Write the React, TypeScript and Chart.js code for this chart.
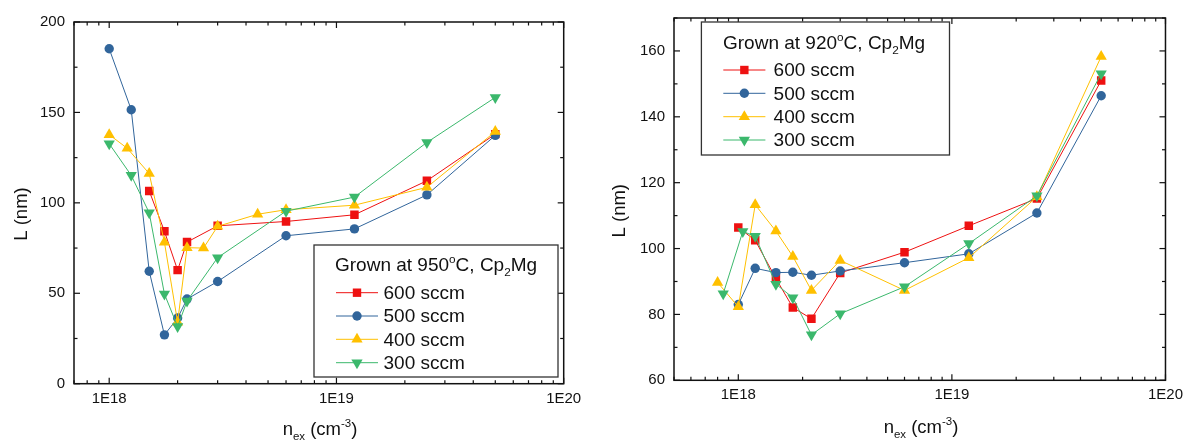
import React, { useEffect, useRef } from 'react';
import { Chart, registerables } from 'chart.js';

Chart.register(...registerables);

// ---------- shared data ----------
const seriesLabels = ['600 sccm', '500 sccm', '400 sccm', '300 sccm'];
const seriesColors = ['#EE1111', '#31659B', '#FFC000', '#3BB86C'];
const seriesStyles = ['rect', 'circle', 'triangle', 'down'];
const xTickValues = [1e18, 1e19, 1e20];
const xTickLabels = ['1E18', '1E19', '1E20'];

// ---------- left panel: grown at 950 °C ----------
const leftTemp = '950';
const leftYTicks = [0, 50, 100, 150, 200];
const left600X = [1.5e18, 1.75e18, 2e18, 2.2e18, 3e18, 6e18, 1.2e19, 2.5e19, 5e19];
const left600Y = [106.6, 84.3, 62.8, 78.3, 87.3, 89.7, 93.4, 112.2, 138];
const left500X = [1e18, 1.25e18, 1.5e18, 1.75e18, 2e18, 2.2e18, 3e18, 6e18, 1.2e19, 2.5e19, 5e19];
const left500Y = [185.2, 151.5, 62.2, 27, 36.3, 46.8, 56.5, 81.8, 85.6, 104.4, 137.3];
const left400X = [1e18, 1.2e18, 1.5e18, 1.75e18, 2e18, 2.2e18, 2.6e18, 3e18, 4.5e18, 6e18, 1.2e19, 2.5e19, 5e19];
const left400Y = [137.7, 130.2, 116.2, 78.2, 34, 75.2, 75, 87, 93.7, 96.2, 98.7, 108.6, 139.4];
const left300X = [1e18, 1.25e18, 1.5e18, 1.75e18, 2e18, 2.2e18, 3e18, 6e18, 1.2e19, 2.5e19, 5e19];
const left300Y = [132.7, 115.2, 94.5, 49.6, 31.6, 45.7, 69.7, 95.4, 103.2, 133.4, 158.3];

// ---------- right panel: grown at 920 °C ----------
const rightTemp = '920';
const rightYTicks = [60, 80, 100, 120, 140, 160];
const right600X = [1e18, 1.2e18, 1.5e18, 1.8e18, 2.2e18, 3e18, 6e18, 1.2e19, 2.5e19, 5e19];
const right600Y = [106.4, 102.5, 90.9, 82.1, 78.7, 92.6, 98.9, 106.9, 115.2, 151];
const right500X = [1e18, 1.2e18, 1.5e18, 1.8e18, 2.2e18, 3e18, 6e18, 1.2e19, 2.5e19, 5e19];
const right500Y = [83, 94, 92.7, 92.8, 91.9, 93.2, 95.7, 98.4, 110.8, 146.4];
const right400X = [8e17, 1e18, 1.2e18, 1.5e18, 1.8e18, 2.2e18, 3e18, 6e18, 1.2e19, 2.5e19, 5e19];
const right400Y = [89.7, 82.3, 113.3, 105.3, 97.6, 87.3, 96.4, 87.3, 97.2, 115.7, 158.3];
const right300X = [8.5e17, 1.05e18, 1.2e18, 1.5e18, 1.8e18, 2.2e18, 3e18, 6e18, 1.2e19, 2.5e19, 5e19];
const right300Y = [86.3, 105.2, 103.7, 89.2, 85.1, 73.8, 80.2, 88.4, 101.5, 116, 153.1];

const FONT = '"Liberation Sans", Arial, Helvetica, sans-serif';

type Seg = { t: string; k?: 'sup' | 'sub' };

function drawSegs(ctx: CanvasRenderingContext2D, segs: Seg[], x: number, y: number, size: number, align: 'left' | 'center') {
  const small = size * 0.62;
  const widths = segs.map((s) => {
    ctx.font = `${s.k ? small : size}px ${FONT}`;
    return ctx.measureText(s.t).width;
  });
  const total = widths.reduce((a, b) => a + b, 0);
  let cx = align === 'center' ? x - total / 2 : x;
  ctx.textAlign = 'left';
  ctx.textBaseline = 'alphabetic';
  segs.forEach((s, i) => {
    ctx.font = `${s.k ? small : size}px ${FONT}`;
    const dy = s.k === 'sup' ? -size * 0.42 : s.k === 'sub' ? size * 0.28 : 0;
    ctx.fillText(s.t, cx, y + dy);
    cx += widths[i];
  });
}

function drawMarker(ctx: CanvasRenderingContext2D, style: string, x: number, y: number, color: string) {
  ctx.fillStyle = color;
  ctx.beginPath();
  if (style === 'rect') {
    ctx.rect(x - 4.2, y - 4.2, 8.4, 8.4);
  } else if (style === 'circle') {
    ctx.arc(x, y, 4.7, 0, Math.PI * 2);
  } else if (style === 'triangle') {
    const r = 6.5;
    ctx.moveTo(x, y - r);
    ctx.lineTo(x + r * 0.866, y + r / 2);
    ctx.lineTo(x - r * 0.866, y + r / 2);
    ctx.closePath();
  } else {
    const r = 6.5;
    ctx.moveTo(x, y + r);
    ctx.lineTo(x + r * 0.866, y - r / 2);
    ctx.lineTo(x - r * 0.866, y - r / 2);
    ctx.closePath();
  }
  ctx.fill();
}

type Panel = {
  width: number;
  height: number;
  left: number;
  right: number;
  top: number;
  bottom: number;
  xMin: number;
  xMax: number;
  yMin: number;
  yMax: number;
  yTicks: number[];
  yMinor: number;
  temp: string;
  series: { x: number[]; y: number[] }[];
  legend: { x0: number; y0: number; x1: number; y1: number; titleX: number; titleY: number; lineX0: number; lineX1: number; textX: number; rows: number[] };
  yTitle: { x: number; y: number };
  xTitle: { x: number; y: number };
};

function makeDecor(p: Panel) {
  return {
    id: 'decor',
    afterDatasetsDraw(chart: any) {
      const ctx: CanvasRenderingContext2D = chart.ctx;
      const a = chart.chartArea;
      const xs = chart.scales.x;
      const ys = chart.scales.y;
      ctx.save();
      ctx.strokeStyle = '#111';
      // ticks
      ctx.lineWidth = 1.2;
      const seg = (x1: number, y1: number, x2: number, y2: number) => {
        ctx.beginPath();
        ctx.moveTo(x1, y1);
        ctx.lineTo(x2, y2);
        ctx.stroke();
      };
      for (let d = 17; d <= 20; d++) {
        for (let m = 1; m <= 9; m++) {
          const v = m * Math.pow(10, d);
          if (v < p.xMin * 0.999 || v > p.xMax * 1.001) continue;
          const px = xs.getPixelForValue(v);
          const len = m === 1 ? 6 : 3.5;
          seg(px, a.bottom, px, a.bottom - len);
          seg(px, a.top, px, a.top + len);
        }
      }
      for (let v = p.yMin; v <= p.yMax + 1e-9; v += p.yMinor) {
        const py = ys.getPixelForValue(v);
        const len = p.yTicks.includes(v) ? 6 : 3.5;
        seg(a.left, py, a.left + len, py);
        seg(a.right, py, a.right - len, py);
      }
      // frame
      ctx.lineWidth = 1.5;
      ctx.strokeRect(a.left, a.top, a.right - a.left, a.bottom - a.top);

      // legend
      const L = p.legend;
      ctx.fillStyle = '#fff';
      ctx.fillRect(L.x0, L.y0, L.x1 - L.x0, L.y1 - L.y0);
      ctx.strokeStyle = '#333';
      ctx.lineWidth = 1.3;
      ctx.strokeRect(L.x0, L.y0, L.x1 - L.x0, L.y1 - L.y0);
      ctx.fillStyle = '#111';
      drawSegs(
        ctx,
        [{ t: `Grown at ${p.temp}` }, { t: 'o', k: 'sup' }, { t: 'C, Cp' }, { t: '2', k: 'sub' }, { t: 'Mg' }],
        L.titleX,
        L.titleY,
        19,
        'left'
      );
      L.rows.forEach((ry, i) => {
        ctx.strokeStyle = seriesColors[i];
        ctx.lineWidth = 1;
        seg(L.lineX0, ry, L.lineX1, ry);
        drawMarker(ctx, seriesStyles[i], (L.lineX0 + L.lineX1) / 2, ry, seriesColors[i]);
        ctx.fillStyle = '#111';
        ctx.font = `19px ${FONT}`;
        ctx.textAlign = 'left';
        ctx.textBaseline = 'middle';
        ctx.fillText(seriesLabels[i], L.textX, ry + 1);
      });

      // axis titles
      ctx.fillStyle = '#111';
      ctx.save();
      ctx.translate(p.yTitle.x, p.yTitle.y);
      ctx.rotate(-Math.PI / 2);
      ctx.font = `18.5px ${FONT}`;
      ctx.textAlign = 'center';
      ctx.textBaseline = 'middle';
      ctx.fillText('L (nm)', 0, 0);
      ctx.restore();
      drawSegs(
        ctx,
        [{ t: 'n' }, { t: 'ex', k: 'sub' }, { t: ' (cm' }, { t: '-3', k: 'sup' }, { t: ')' }],
        p.xTitle.x,
        p.xTitle.y,
        18.5,
        'center'
      );
      ctx.restore();
    },
  };
}

function buildChart(canvas: HTMLCanvasElement, p: Panel) {
  const datasets = p.series.map((s, i) => ({
    label: seriesLabels[i],
    data: s.x.map((xv, j) => ({ x: xv, y: s.y[j] })),
    showLine: true,
    order: p.series.length - 1 - i,
    borderColor: seriesColors[i],
    backgroundColor: seriesColors[i],
    borderWidth: 1,
    pointStyle: seriesStyles[i] === 'down' ? 'triangle' : seriesStyles[i],
    rotation: seriesStyles[i] === 'down' ? 180 : 0,
    pointRadius: seriesStyles[i] === 'rect' ? 6 : seriesStyles[i] === 'circle' ? 4.7 : 6.5,
    pointBorderWidth: 0,
    pointBackgroundColor: seriesColors[i],
    tension: 0,
  }));
  return new Chart(canvas, {
    type: 'scatter',
    data: { datasets },
    plugins: [makeDecor(p)],
    options: {
      responsive: false,
      animation: false,
      devicePixelRatio: 1,
      layout: { padding: { left: 0, top: p.top, right: p.width - p.right, bottom: 0 } },
      plugins: { legend: { display: false }, tooltip: { enabled: false } },
      scales: {
        x: {
          type: 'logarithmic',
          min: p.xMin,
          max: p.xMax,
          grid: { display: false, drawTicks: false },
          border: { display: false },
          afterBuildTicks: (scale: any) => {
            scale.ticks = xTickValues.map((v) => ({ value: v }));
          },
          afterFit: (scale: any) => {
            scale.height = p.height - p.bottom;
          },
          ticks: {
            autoSkip: false,
            maxRotation: 0,
            minRotation: 0,
            padding: 6,
            color: '#111',
            font: { family: FONT, size: 15 },
            callback: (v: any) => {
              const i = xTickValues.indexOf(Number(v));
              return i >= 0 ? xTickLabels[i] : '';
            },
          },
        },
        y: {
          type: 'linear',
          min: p.yMin,
          max: p.yMax,
          grid: { display: false, drawTicks: false },
          border: { display: false },
          afterBuildTicks: (scale: any) => {
            scale.ticks = p.yTicks.map((v) => ({ value: v }));
          },
          afterFit: (scale: any) => {
            scale.width = p.left;
          },
          ticks: {
            padding: 9,
            color: '#111',
            font: { family: FONT, size: 15 },
            callback: (v: any) => String(v),
          },
        },
      },
    },
  } as any);
}

const leftPanel: Panel = {
  width: 600,
  height: 441,
  left: 74,
  right: 563.7,
  top: 22,
  bottom: 383.7,
  xMin: 7e17,
  xMax: 1e20,
  yMin: 0,
  yMax: 200,
  yTicks: leftYTicks,
  yMinor: 25,
  temp: leftTemp,
  series: [
    { x: left600X, y: left600Y },
    { x: left500X, y: left500Y },
    { x: left400X, y: left400Y },
    { x: left300X, y: left300Y },
  ],
  legend: {
    x0: 314,
    y0: 245,
    x1: 558,
    y1: 377,
    titleX: 335,
    titleY: 271,
    lineX0: 336,
    lineX1: 378,
    textX: 383.5,
    rows: [292.7, 316, 339.3, 362.7],
  },
  yTitle: { x: 21.5, y: 214 },
  xTitle: { x: 320, y: 435 },
};

const rightPanel: Panel = {
  width: 589,
  height: 441,
  left: 74,
  right: 570,
  top: 15.7,
  bottom: 380.3,
  xMin: 5e17,
  xMax: 1e20,
  yMin: 60,
  yMax: 170,
  yTicks: rightYTicks,
  yMinor: 10,
  temp: rightTemp,
  series: [
    { x: right600X, y: right600Y },
    { x: right500X, y: right500Y },
    { x: right400X, y: right400Y },
    { x: right300X, y: right300Y },
  ],
  legend: {
    x0: 101.4,
    y0: 22,
    x1: 349.5,
    y1: 155,
    titleX: 123,
    titleY: 48.5,
    lineX0: 123.3,
    lineX1: 165.4,
    textX: 173.6,
    rows: [70, 93.3, 116.7, 140],
  },
  yTitle: { x: 19.5, y: 210.7 },
  xTitle: { x: 321, y: 433 },
};

function ChartPanel({ panel, offsetX }: { panel: Panel; offsetX: number }) {
  const ref = useRef<HTMLCanvasElement | null>(null);
  useEffect(() => {
    if (!ref.current) return;
    const chart = buildChart(ref.current, panel);
    return () => chart.destroy();
  }, [panel]);
  return (
    <canvas
      ref={ref}
      width={panel.width}
      height={panel.height}
      style={{ position: 'absolute', left: offsetX, top: 0, width: panel.width, height: panel.height }}
    />
  );
}

export default function App() {
  return (
    <div style={{ position: 'absolute', left: 0, top: 0, width: 1189, height: 441, background: '#fff', overflow: 'hidden' }}>
      <ChartPanel panel={leftPanel} offsetX={0} />
      <ChartPanel panel={rightPanel} offsetX={600} />
    </div>
  );
}
